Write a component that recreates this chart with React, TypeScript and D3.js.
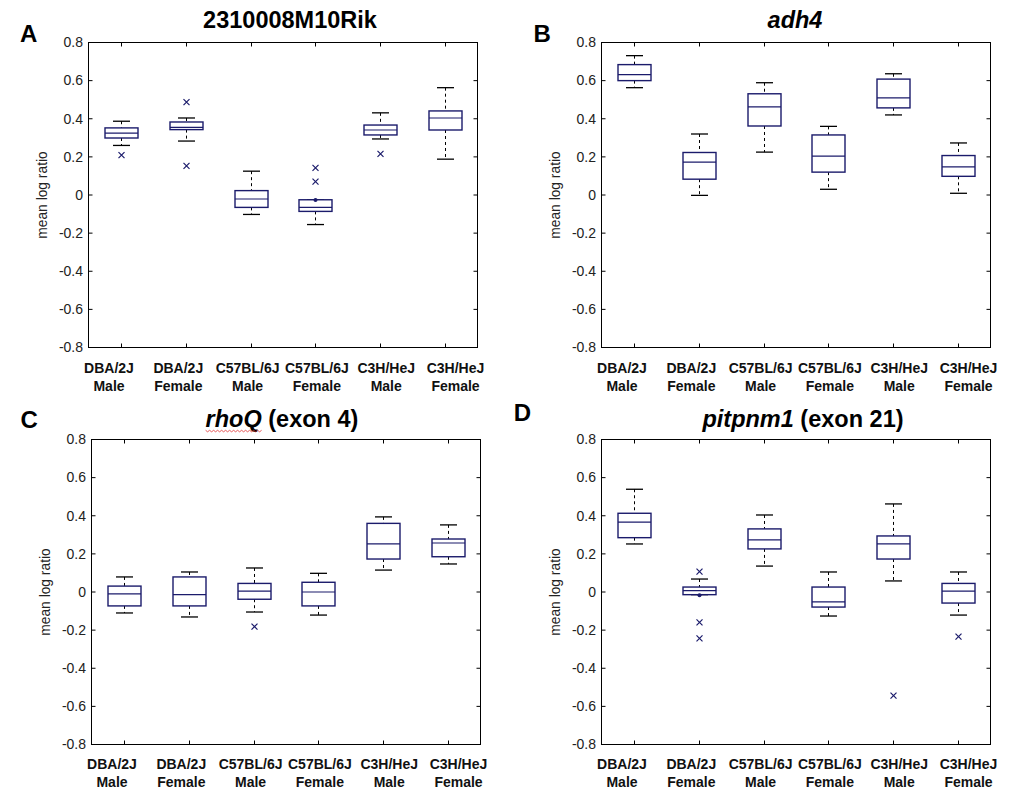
import React, { useEffect, useRef } from "react";
import * as d3 from "d3";

const strains = ["DBA/2J", "DBA/2J", "C57BL/6J", "C57BL/6J", "C3H/HeJ", "C3H/HeJ"];
const sexes = ["Male", "Female", "Male", "Female", "Male", "Female"];
const categories = strains.map((s, i) => `${s} ${sexes[i]}`);
const yTicks = [0.8, 0.6, 0.4, 0.2, 0, -0.2, -0.4, -0.6, -0.8];
const yDomain = [-0.8, 0.8];

// Panel A: 2310008M10Rik
const aWhiskerHigh = [0.387, 0.404, 0.125, -0.025, 0.431, 0.563];
const aUpperQuartile = [0.352, 0.383, 0.023, -0.025, 0.367, 0.441];
const aMedian = [0.325, 0.355, -0.021, -0.065, 0.341, 0.404];
const aLowerQuartile = [0.299, 0.343, -0.065, -0.086, 0.315, 0.341];
const aWhiskerLow = [0.26, 0.283, -0.102, -0.155, 0.294, 0.188];
const aOutliers = [[0.209], [0.487, 0.153], [], [0.142, 0.07], [0.216], []];
const aDots = [[], [], [], [-0.026], [], []];

// Panel B: adh4
const bWhiskerHigh = [0.731, 0.32, 0.589, 0.36, 0.636, 0.273];
const bUpperQuartile = [0.684, 0.223, 0.531, 0.315, 0.608, 0.207];
const bMedian = [0.631, 0.172, 0.462, 0.204, 0.51, 0.148];
const bLowerQuartile = [0.6, 0.083, 0.362, 0.12, 0.457, 0.098];
const bWhiskerLow = [0.563, -0.002, 0.225, 0.03, 0.42, 0.009];
const bOutliers = [[], [], [], [], [], []];
const bDots = [[], [], [], [], [], []];

// Panel C: rhoQ (exon 4)
const cWhiskerHigh = [0.079, 0.105, 0.126, 0.098, 0.394, 0.352];
const cUpperQuartile = [0.031, 0.079, 0.045, 0.051, 0.36, 0.278];
const cMedian = [-0.01, -0.014, 0.005, 0, 0.252, 0.257];
const cLowerQuartile = [-0.073, -0.073, -0.038, -0.073, 0.173, 0.185];
const cWhiskerLow = [-0.11, -0.131, -0.105, -0.121, 0.115, 0.147];
const cOutliers = [[], [], [-0.182], [], [], []];
const cDots = [[], [], [], [], [], []];

// Panel D: pitpnm1 (exon 21)
const dWhiskerHigh = [0.539, 0.068, 0.404, 0.105, 0.462, 0.105];
const dUpperQuartile = [0.413, 0.026, 0.331, 0.026, 0.294, 0.045];
const dMedian = [0.367, 0.007, 0.273, -0.052, 0.252, 0.005];
const dLowerQuartile = [0.285, -0.014, 0.226, -0.079, 0.173, -0.058];
const dWhiskerLow = [0.252, -0.014, 0.136, -0.126, 0.058, -0.121];
const dOutliers = [[], [0.107, -0.159, -0.243], [], [], [-0.544], [-0.234]];
const dDots = [[], [-0.017], [], [], [], []];

const NAVY = "#1b1b6b";
const FONT = "Arial, 'Liberation Sans', sans-serif";

type Panel = {
  letter: string;
  titleParts: { text: string; italic: boolean }[];
  wavy?: boolean;
  hi: number[]; q3: number[]; med: number[]; q1: number[]; lo: number[];
  out: number[][]; dots: number[][];
  left: number; right: number; top: number; bottom: number;
  letterX: number; letterY: number; titleX: number; titleY: number;
  labelY: number;
};

const panels: Panel[] = [
  {
    letter: "A", titleParts: [{ text: "2310008M10Rik", italic: false }],
    hi: aWhiskerHigh, q3: aUpperQuartile, med: aMedian, q1: aLowerQuartile, lo: aWhiskerLow, out: aOutliers, dots: aDots,
    left: 88.5, right: 477.5, top: 42.5, bottom: 347.5,
    letterX: 20, letterY: 41.7, titleX: 290, titleY: 28.3, labelY: 372.7,
  },
  {
    letter: "B", titleParts: [{ text: "adh4", italic: true }],
    hi: bWhiskerHigh, q3: bUpperQuartile, med: bMedian, q1: bLowerQuartile, lo: bWhiskerLow, out: bOutliers, dots: bDots,
    left: 601.5, right: 990.5, top: 42.5, bottom: 347.5,
    letterX: 533.5, letterY: 41.7, titleX: 795, titleY: 28.3, labelY: 372.7,
  },
  {
    letter: "C", titleParts: [{ text: "rhoQ", italic: true }, { text: " (exon 4)", italic: false }], wavy: true,
    hi: cWhiskerHigh, q3: cUpperQuartile, med: cMedian, q1: cLowerQuartile, lo: cWhiskerLow, out: cOutliers, dots: cDots,
    left: 91.5, right: 480.5, top: 439.5, bottom: 744.5,
    letterX: 20.5, letterY: 428.3, titleX: 282, titleY: 427.3, labelY: 768.5,
  },
  {
    letter: "D", titleParts: [{ text: "pitpnm1", italic: true }, { text: " (exon 21)", italic: false }],
    hi: dWhiskerHigh, q3: dUpperQuartile, med: dMedian, q1: dLowerQuartile, lo: dWhiskerLow, out: dOutliers, dots: dDots,
    left: 601.5, right: 990.5, top: 439.5, bottom: 744.5,
    letterX: 513.7, letterY: 420.7, titleX: 803, titleY: 427.3, labelY: 768.5,
  },
];

function drawPanel(svg: d3.Selection<SVGSVGElement, unknown, null, undefined>, p: Panel) {
  const g = svg.append("g");
  const x = d3.scaleBand<string>().domain(categories).range([p.left, p.right]).padding(0);
  const xl = d3.scalePoint<string>().domain(categories).range([p.left + 20.5, p.right - 22]);
  const y = d3.scaleLinear().domain(yDomain).range([p.bottom, p.top]);
  const cx = (i: number) => (x(categories[i]) as number) + x.bandwidth() / 2;
  const boxW = 33;
  const capW = 17;

  // letter
  g.append("text").attr("x", p.letterX).attr("y", p.letterY).attr("font-family", FONT)
    .attr("font-size", 24).attr("font-weight", "bold").attr("fill", "#000").text(p.letter);

  // title
  const t = g.append("text").attr("x", p.titleX).attr("y", p.titleY).attr("font-family", FONT)
    .attr("font-size", 23.5).attr("font-weight", "bold").attr("text-anchor", "middle").attr("fill", "#000");
  p.titleParts.forEach((part) => {
    t.append("tspan").attr("font-style", part.italic ? "italic" : "normal").text(part.text);
  });
  if (p.wavy) {
    const tsp = t.select<SVGTSpanElement>("tspan").node();
    if (tsp) {
      const bb = tsp.getBBox();
      const pts: [number, number][] = [];
      const n = Math.floor(bb.width / 2);
      for (let k = 0; k <= n; k++) pts.push([bb.x + k * 2, p.titleY + 3 + (k % 2 === 0 ? 0 : 1.5)]);
      g.append("path").attr("d", d3.line()(pts) as string).attr("fill", "none")
        .attr("stroke", "#e03030").attr("stroke-width", 0.8);
    }
  }

  // y axis tick labels
  g.selectAll(".ytl").data(yTicks).enter().append("text")
    .attr("x", p.left - 5.5).attr("y", (d) => y(d) + 4.8)
    .attr("text-anchor", "end").attr("font-family", FONT).attr("font-size", 14).attr("fill", "#222")
    .text((d) => String(d));

  // y title
  const ymid = (p.top + p.bottom) / 2;
  g.append("text").attr("transform", `translate(${p.left - 41.5},${ymid}) rotate(-90)`)
    .attr("text-anchor", "middle").attr("font-family", FONT).attr("font-size", 13.8).attr("fill", "#222")
    .text("mean log ratio");

  // ticks (inward)
  const tickLen = 4;
  yTicks.forEach((d) => {
    g.append("line").attr("x1", p.left).attr("x2", p.left + tickLen).attr("y1", y(d)).attr("y2", y(d)).attr("stroke", "#000");
    g.append("line").attr("x1", p.right).attr("x2", p.right - tickLen).attr("y1", y(d)).attr("y2", y(d)).attr("stroke", "#000");
  });
  categories.forEach((c, i) => {
    const xx = Math.round(cx(i)) + 0.5;
    g.append("line").attr("x1", xx).attr("x2", xx).attr("y1", p.bottom).attr("y2", p.bottom - tickLen).attr("stroke", "#000");
    g.append("line").attr("x1", xx).attr("x2", xx).attr("y1", p.top).attr("y2", p.top + tickLen).attr("stroke", "#000");
  });

  // frame
  g.append("rect").attr("x", p.left).attr("y", p.top).attr("width", p.right - p.left).attr("height", p.bottom - p.top)
    .attr("fill", "none").attr("stroke", "#000").attr("stroke-width", 1);

  // x labels
  categories.forEach((c, i) => {
    const tx = g.append("text").attr("x", xl(c) as number).attr("y", p.labelY).attr("text-anchor", "middle")
      .attr("font-family", FONT).attr("font-size", 14).attr("font-weight", "bold").attr("fill", "#111");
    tx.append("tspan").attr("x", xl(c) as number).text(strains[i]);
    tx.append("tspan").attr("x", xl(c) as number).attr("dy", 18).text(sexes[i]);
  });

  // boxes
  categories.forEach((c, i) => {
    const xc = Math.round(cx(i)) + 0.5;
    g.append("line").attr("x1", xc).attr("x2", xc).attr("y1", y(p.hi[i])).attr("y2", y(p.q3[i]))
      .attr("stroke", "#000").attr("stroke-dasharray", "3,3");
    g.append("line").attr("x1", xc).attr("x2", xc).attr("y1", y(p.q1[i])).attr("y2", y(p.lo[i]))
      .attr("stroke", "#000").attr("stroke-dasharray", "3,3");
    g.append("line").attr("x1", xc - capW / 2).attr("x2", xc + capW / 2).attr("y1", y(p.hi[i])).attr("y2", y(p.hi[i]))
      .attr("stroke", "#000").attr("stroke-width", 1.3);
    g.append("line").attr("x1", xc - capW / 2).attr("x2", xc + capW / 2).attr("y1", y(p.lo[i])).attr("y2", y(p.lo[i]))
      .attr("stroke", "#000").attr("stroke-width", 1.3);
    g.append("rect").attr("x", xc - boxW / 2).attr("y", y(p.q3[i])).attr("width", boxW)
      .attr("height", Math.max(0, y(p.q1[i]) - y(p.q3[i])))
      .attr("fill", "#fff").attr("stroke", NAVY).attr("stroke-width", 1.4);
    g.append("line").attr("x1", xc - boxW / 2).attr("x2", xc + boxW / 2).attr("y1", y(p.med[i])).attr("y2", y(p.med[i]))
      .attr("stroke", NAVY).attr("stroke-width", 1.2);
    p.out[i].forEach((v) => {
      const yy = y(v);
      const s = 3;
      g.append("path").attr("d", `M${xc - s},${yy - s}L${xc + s},${yy + s}M${xc - s},${yy + s}L${xc + s},${yy - s}`)
        .attr("stroke", NAVY).attr("stroke-width", 1.2).attr("fill", "none");
    });
    p.dots[i].forEach((v) => {
      g.append("circle").attr("cx", xc).attr("cy", y(v)).attr("r", 2).attr("fill", NAVY);
    });
  });
}

export default function App() {
  const ref = useRef<SVGSVGElement | null>(null);
  useEffect(() => {
    if (!ref.current) return;
    const svg = d3.select(ref.current);
    svg.selectAll("*").remove();
    svg.append("rect").attr("width", 1026).attr("height", 794).attr("fill", "#fff");
    panels.forEach((p) => drawPanel(svg, p));
  }, []);
  return (
    <svg
      ref={ref}
      width={1026}
      height={794}
      style={{ position: "absolute", left: 0, top: 0, display: "block", background: "#fff" }}
    />
  );
}
